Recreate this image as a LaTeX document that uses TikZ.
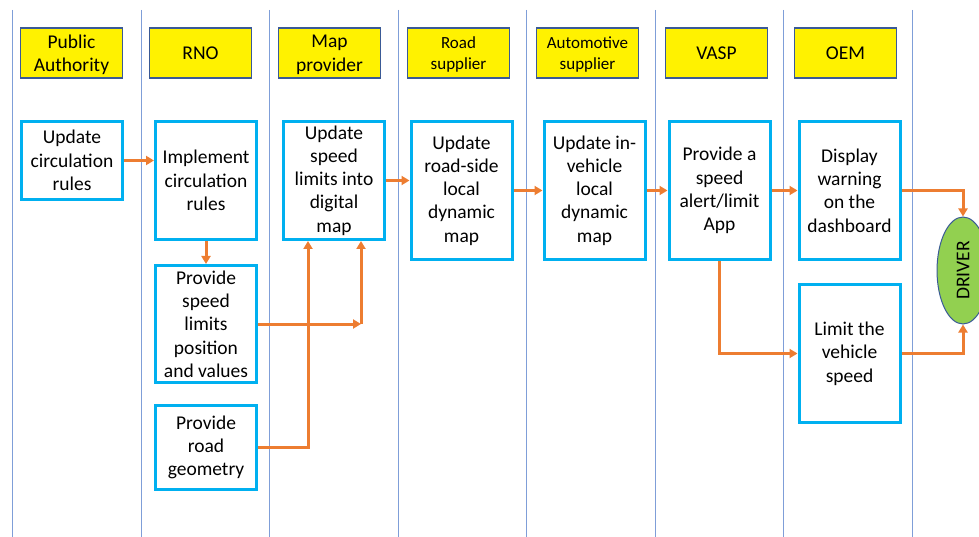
\documentclass[tikz,border=0pt]{standalone}
\usepackage{fontspec}
\setmainfont{Carlito}
\usepackage{graphicx}
\usetikzlibrary{arrows.meta,shapes.geometric}
\definecolor{laneblue}{HTML}{7F9ED8}
\definecolor{taskblue}{HTML}{00B0F0}
\definecolor{flow}{HTML}{ED7D31}
\definecolor{hdrborder}{HTML}{3A5A96}
\definecolor{drvgreen}{HTML}{92D050}
\definecolor{drvborder}{HTML}{3A5A96}

\begin{document}
\begin{tikzpicture}[x=1pt,y=-1pt,
  lane/.style={draw=laneblue, line width=1pt},
  header/.style={draw=hdrborder, line width=1.2pt, fill=yellow,
    minimum width=102pt, minimum height=50pt, inner sep=0pt, align=center,
    text depth=0pt, font=\fontsize{19.5}{23.5}\selectfont},
  smallhdr/.style={font=\fontsize{17}{21}\selectfont},
  task/.style={draw=taskblue, line width=3pt, fill=white,
    minimum width=101pt, inner sep=0pt, align=center,
    font=\fontsize{19.5}{23.3}\selectfont},
  flowarrow/.style={draw=flow, line width=3pt,
    -{Triangle[length=8pt,width=9pt]}},
  driver/.style={ellipse, draw=drvborder, line width=1pt, fill=drvgreen,
    minimum width=52pt, minimum height=107pt, inner sep=0pt,
    font=\fontsize{19.5}{23}\selectfont}
]
\useasboundingbox (0,0) rectangle (979,537);

% swim-lane separators
\foreach \x in {12,141,269,398,526,655,783,912}
  \draw[lane] (\x,10) -- (\x,537);

% lane headers
\node[header] (hPA)   at (71.5,53)  {Public\\Authority};
\node[header] (hRNO)  at (200.5,53) {RNO};
\node[header] (hMap)  at (329.5,53) {Map\\provider};
\node[header,smallhdr] (hRoad) at (458.5,53) {Road\\supplier};
\node[header,smallhdr] (hAuto) at (587.5,53) {Automotive\\supplier};
\node[header] (hVASP) at (716.5,53) {VASP};
\node[header] (hOEM)  at (845.5,53) {OEM};

% activities
\node[task, minimum height=78pt]  (t1)  at (72,160.5)    {Update\\circulation\\rules};
\node[task, minimum height=118pt] (t2)  at (206,180.5)   {Implement\\circulation\\rules};
\node[task, minimum height=118pt] (t3)  at (334,180.5)   {Update\\speed\\limits into\\digital\\map};
\node[task, minimum height=138pt] (t4)  at (461.5,190.5) {Update\\road-side\\local\\dynamic\\map};
\node[task, minimum height=138pt] (t5)  at (594.5,190.5) {Update in-\\vehicle\\local\\dynamic\\map};
\node[task, minimum height=138pt] (t6)  at (719.5,190.5) {Provide a\\speed\\alert/limit\\App};
\node[task, minimum height=138pt] (t7)  at (849.5,190.5) {Display\\warning\\on the\\dashboard};
\node[task, minimum height=138pt] (t8)  at (849.5,353.5) {Limit the\\vehicle\\speed};
\node[task, minimum height=117pt] (t9)  at (206,324)     {Provide\\speed\\limits\\position\\and values};
\node[task, minimum height=84pt]  (t10) at (206,447.5)   {Provide\\road\\geometry};

% end user
\node[driver] (drv) at (963,270.5) {\rotatebox{90}{DRIVER}};

% junction points below the digital map
\path ([xshift=27pt]t3.south) coordinate (j1top);
\coordinate (j1) at (j1top |- t9.east);

% flows
\draw[flowarrow] (t1.east) -- (t1.east -| t2.west);
\draw[flowarrow] (t2.south) -- (t9.north);
\draw[flowarrow] (t3.east) -- (t3.east -| t4.west);
\draw[flowarrow] (t4.east) -- (t5.west);
\draw[flowarrow] (t5.east) -- (t6.west);
\draw[flowarrow] (t6.east) -- (t7.west);
\draw[flowarrow] (t9.east) -- (j1);
\draw[flowarrow] (j1) -- (j1top);
\draw[flowarrow] (t10.east) -| ([xshift=-26pt]t3.south);
\draw[flowarrow] (t6.south) |- (t8.west);
\draw[flowarrow] (t7.east) -| (drv.north);
\draw[flowarrow] (t8.east) -| (drv.south);
\end{tikzpicture}
\end{document}
